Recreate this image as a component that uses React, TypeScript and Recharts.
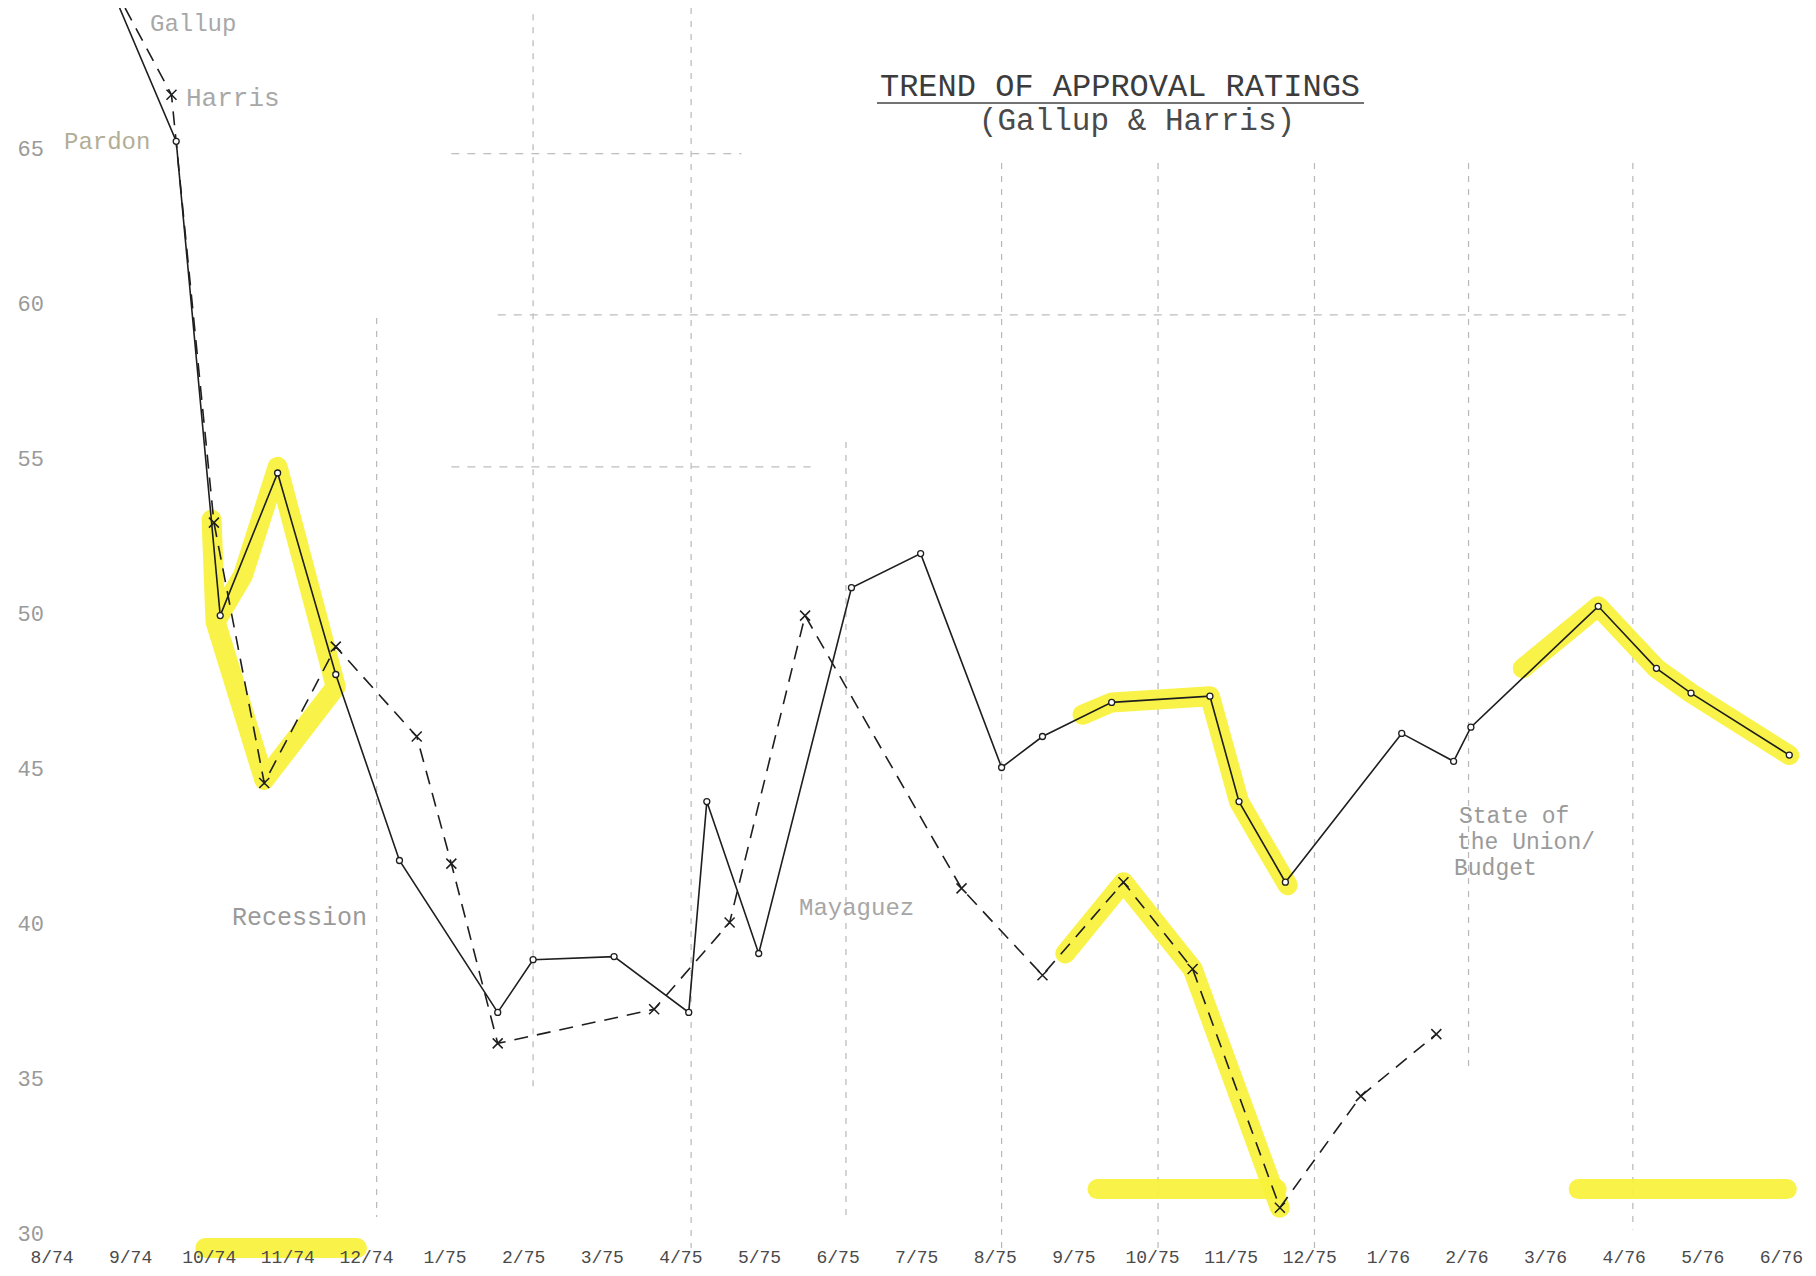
import React from 'react';
import { LineChart, Line, XAxis, YAxis, ReferenceLine } from 'recharts';

// x = months since August 1974 (0 = 8/74)
const monthLabels = ['8/74', '9/74', '10/74', '11/74', '12/74', '1/75', '2/75', '3/75', '4/75', '5/75', '6/75', '7/75', '8/75', '9/75', '10/75', '11/75', '12/75', '1/76', '2/76', '3/76', '4/76', '5/76', '6/76'];
const monthTicks = [0, 1, 2, 3, 4, 5, 6, 7, 8, 9, 10, 11, 12, 13, 14, 15, 16, 17, 18, 19, 20, 21, 22];
const ratingTicks = [30, 35, 40, 45, 50, 55, 60, 65];

const gallupMonth = [0.86, 1.58, 2.14, 2.87, 3.61, 4.42, 5.67, 6.12, 7.15, 8.10, 8.33, 8.99, 10.17, 11.05, 12.08, 12.60, 13.48, 14.73, 15.10, 15.69, 17.17, 17.83, 18.05, 19.67, 20.41, 20.85, 22.10];
const gallupValue = [70, 65.7, 50.4, 55.0, 48.5, 42.5, 37.6, 39.3, 39.4, 37.6, 44.4, 39.5, 51.3, 52.4, 45.5, 46.5, 47.6, 47.8, 44.4, 41.8, 46.6, 45.7, 46.8, 50.7, 48.7, 47.9, 45.9];

const harrisMonth = [0.93, 1.52, 2.06, 2.70, 3.61, 4.64, 5.08, 5.67, 7.66, 8.62, 9.58, 11.57, 12.60, 13.63, 14.51, 15.62, 16.65, 17.61];
const harrisValue = [70, 67.2, 53.4, 45.0, 49.4, 46.5, 42.4, 36.6, 37.7, 40.5, 50.4, 41.6, 38.8, 41.8, 39.0, 31.3, 34.9, 36.9];

// hand-drawn highlighter strokes
const hlPardonMonth = [2.03, 2.08, 2.70, 3.61, 2.87, 2.43, 2.08];
const hlPardonValue = [53.5, 50.2, 45.1, 48.1, 55.2, 51.7, 50.2];
const hlGallupFallMonth = [13.11, 13.48, 14.73, 15.10, 15.72];
const hlGallupFallValue = [47.2, 47.6, 47.8, 44.4, 41.7];
const hlHarrisFallMonth = [12.89, 13.63, 14.51, 15.62];
const hlHarrisFallValue = [39.5, 41.8, 39.0, 31.3];
const hlGallupSpringMonth = [18.71, 19.67, 20.41, 20.85, 22.10];
const hlGallupSpringValue = [48.7, 50.7, 48.7, 47.9, 45.9];
const hlAxis1Month = [1.95, 3.88];
const hlAxis1Value = [30.0, 30.0];
const hlAxis2Month = [13.3, 15.58];
const hlAxis2Value = [31.9, 31.9];
const hlAxis3Month = [19.42, 22.07];
const hlAxis3Value = [31.9, 31.9];

// graph paper rulings
const paperVMonth = [4.13, 6.12, 8.13, 10.1, 12.08, 14.07, 16.06, 18.02, 20.11];
const paperVTop = [60, 69.8, 70, 56, 65, 65, 65, 65, 65];
const paperVBottom = [31, 35.1, 30, 31, 30, 30, 30, 35.8, 30.6];
const paperHValue = [65.3, 60.1, 55.2];
const paperHStart = [5.08, 5.67, 5.08];
const paperHEnd = [8.77, 20.11, 9.65];

const zip = (ms: number[], vs: number[]) => ms.map((m, i) => ({ m, v: vs[i] }));

const gallupData = zip(gallupMonth, gallupValue);
const harrisData = zip(harrisMonth, harrisValue);
const highlights = [
  zip(hlPardonMonth, hlPardonValue),
  zip(hlGallupFallMonth, hlGallupFallValue),
  zip(hlHarrisFallMonth, hlHarrisFallValue),
  zip(hlGallupSpringMonth, hlGallupSpringValue),
  zip(hlAxis1Month, hlAxis1Value),
  zip(hlAxis2Month, hlAxis2Value),
  zip(hlAxis3Month, hlAxis3Value),
];

const MONO = '"Liberation Mono", "DejaVu Sans Mono", monospace';
const INK = '#1e1e1e';
const HL = '#f9f23a';

const GallupDot = (props: any) => {
  const { cx, cy, index } = props;
  if (cx == null || cy == null || index === 0) return <g key={`g${index}`} />;
  return <circle key={`g${index}`} cx={cx} cy={cy} r={3} fill="#fff" stroke={INK} strokeWidth={1.3} />;
};

const HarrisDot = (props: any) => {
  const { cx, cy, index } = props;
  if (cx == null || cy == null || index === 0) return <g key={`h${index}`} />;
  const s = 5;
  return (
    <path
      key={`h${index}`}
      d={`M${cx - s},${cy - s}L${cx + s},${cy + s}M${cx + s},${cy - s}L${cx - s},${cy + s}`}
      stroke={INK}
      strokeWidth={1.5}
      fill="none"
    />
  );
};

const YTick = (props: any) => {
  const { x, y, payload } = props;
  return (
    <text x={x} y={y - 15} dy="0.355em" textAnchor="end" fill="#9a9a9a" fontSize={22} fontFamily={MONO}>
      {payload.value}
    </text>
  );
};

const W = 1808;
const H = 1268;

export default function App() {
  return (
    <div style={{ position: 'relative', width: W, height: H, background: '#fff' }}>
      <LineChart width={W} height={H} margin={{ top: 0, right: 0, bottom: 0, left: 0 }}>
        <XAxis
          type="number"
          dataKey="m"
          domain={[0, 22.44]}
          ticks={monthTicks}
          tickFormatter={(t: number) => monthLabels[t] ?? ''}
          axisLine={false}
          tickLine={false}
          tickSize={0}
          tickMargin={2}
          height={28}
          tick={{ fill: '#4a4a4a', fontSize: 18, fontFamily: MONO }}
        />
        <YAxis
          type="number"
          dataKey="v"
          domain={[30, 70]}
          ticks={ratingTicks}
          axisLine={false}
          tickLine={false}
          tickSize={0}
          tickMargin={8}
          width={44}
          tick={YTick}
        />
        {paperVMonth.map((m, i) => (
          <ReferenceLine
            key={`pv${i}`}
            segment={[{ x: m, y: paperVTop[i] }, { x: m, y: paperVBottom[i] }]}
            stroke="#b8b8b8"
            strokeWidth={1.2}
            strokeDasharray="6 7"
          />
        ))}
        {paperHValue.map((v, i) => (
          <ReferenceLine
            key={`ph${i}`}
            segment={[{ x: paperHStart[i], y: v }, { x: paperHEnd[i], y: v }]}
            stroke="#bdbdbd"
            strokeWidth={1.2}
            strokeDasharray="8 8"
          />
        ))}
        {highlights.map((d, i) => (
          <Line
            key={`hl${i}`}
            data={d}
            dataKey="v"
            stroke={HL}
            strokeOpacity={0.92}
            strokeWidth={20}
            strokeLinejoin="round"
            strokeLinecap="round"
            dot={false}
            activeDot={false}
            isAnimationActive={false}
            type="linear"
          />
        ))}
        <Line
          data={harrisData}
          dataKey="v"
          name="Harris"
          stroke={INK}
          strokeWidth={1.6}
          strokeDasharray="14 9"
          dot={HarrisDot}
          activeDot={false}
          isAnimationActive={false}
          type="linear"
        />
        <Line
          data={gallupData}
          dataKey="v"
          name="Gallup"
          stroke={INK}
          strokeWidth={1.6}
          dot={GallupDot}
          activeDot={false}
          isAnimationActive={false}
          type="linear"
        />
      </LineChart>
      <svg
        width={W}
        height={H}
        style={{ position: 'absolute', left: 0, top: 0, pointerEvents: 'none' }}
      >
        <g fontFamily={MONO}>
          <text x={1112} y={88} textAnchor="middle" fontSize={32} fill="#3c3c3c">TREND OF APPROVAL RATINGS</text>
          <line x1={869} y1={95} x2={1356} y2={95} stroke="#444" strokeWidth={1.6} />
          <text x={1129} y={122} textAnchor="middle" fontSize={31} fill="#4a4a4a">(Gallup &amp; Harris)</text>
          <text x={142} y={23} fontSize={24} fill="#a8a8a8">Gallup</text>
          <text x={178} y={98} fontSize={26} fill="#a8a8a8">Harris</text>
          <text x={56} y={141} fontSize={24} fill="#b3ad96">Pardon</text>
          <text x={224} y={917} fontSize={25} fill="#9a9a9a">Recession</text>
          <text x={791} y={907} fontSize={24} fill="#a6a6a6">Mayaguez</text>
          <text x={1451} y={815} fontSize={23} fill="#9a9a9a">State of</text>
          <text x={1449} y={841} fontSize={23} fill="#9a9a9a">the Union/</text>
          <text x={1446} y={867} fontSize={23} fill="#9a9a9a">Budget</text>
        </g>
      </svg>
    </div>
  );
}
